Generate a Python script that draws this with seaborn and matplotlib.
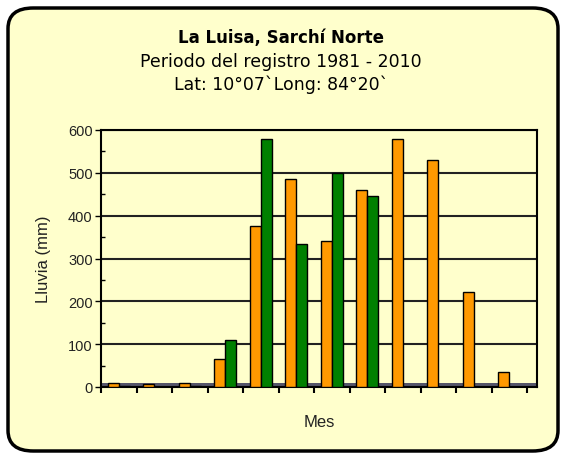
import numpy as np
import pandas as pd
import matplotlib
matplotlib.use("Agg")
import matplotlib.pyplot as plt
from matplotlib.patches import FancyBboxPatch
import seaborn as sns

months = ["Ene", "Feb", "Mar", "Abr", "May", "Jun", "Jul", "Ago", "Set", "Oct", "Nov", "Dic"]
series_a = [10, 8, 10, 65, 375, 485, 340, 460, 578, 530, 222, 35]
series_b = [2, 1, 2, 110, 580, 333, 500, 445, 0, 0, 0, 0]
series_names = ["Serie 1", "Serie 2"]
yticks = [0, 100, 200, 300, 400, 500, 600]

bg = "#FFFFCC"
sns.set_theme(style="white")
plt.rcParams["font.family"] = ["DejaVu Sans"]
plt.rcParams["text.color"] = "black"

df = pd.DataFrame({
    "Mes": months * 2,
    "Lluvia": series_a + series_b,
    "Serie": [series_names[0]] * 12 + [series_names[1]] * 12,
})

fig = plt.figure(figsize=(5.62, 4.56), dpi=100)
fig.patch.set_facecolor("white")

# rounded border
box = FancyBboxPatch((8 / 562, 4 / 456), 550 / 562, 443 / 456,
                     boxstyle="round,pad=0,rounding_size=0.045",
                     transform=fig.transFigure, facecolor=bg,
                     edgecolor="black", linewidth=2.5, zorder=-5)
fig.patches.append(box)

ax = fig.add_axes([101 / 562, 1 - 388 / 456, 436 / 562, 257 / 456])
ax.set_zorder(2)
ax.patch.set_alpha(0)

sns.barplot(data=df, x="Mes", y="Lluvia", hue="Serie", order=months,
            palette=["#FF9900", "#008000"], saturation=1, edgecolor="black", linewidth=1.0,
            width=0.62, dodge=True, legend=False, ax=ax, zorder=3)

ax.set_ylim(0, 600)
ax.set_xlim(-0.5, 11.78)
ax.set_yticks(yticks)
ax.set_yticklabels([str(v) for v in yticks], fontsize=10.5, family="Liberation Sans", color="#222222")
ax.set_yticks(np.arange(50, 600, 100), minor=True)
ax.tick_params(axis="y", which="major", direction="out", length=4, width=1, color="black", left=True, pad=2)
ax.tick_params(axis="y", which="minor", direction="in", length=3, width=1, color="black", left=True)
ax.set_xticks(np.arange(-0.5, 12, 1))
ax.set_xticklabels([])
ax.tick_params(axis="x", which="major", direction="out", length=4, width=1.5, color="black", bottom=True)

for v in yticks[1:]:
    ax.axhline(v, color="#222222", linewidth=1.5, zorder=1)
ax.axhspan(0, 10, facecolor="#55556a", edgecolor="none", alpha=1, zorder=2)

for s in ax.spines.values():
    s.set_color("black")
    s.set_linewidth(1.5)

ax.set_xlabel("Mes", fontsize=12, family="Liberation Sans", labelpad=12, color="#222222")
ax.set_ylabel("Lluvia (mm)", fontsize=12, family="Liberation Sans", labelpad=12, color="#222222")

fig.text(0.5, 1 - 38 / 456, "La Luisa, Sarchí Norte", ha="center", va="center",
         fontsize=12, fontweight="bold")
fig.text(0.5, 1 - 62 / 456, "Periodo del registro 1981 - 2010", ha="center", va="center",
         fontsize=12.5)
fig.text(0.5, 1 - 85 / 456, "Lat: 10°07`Long: 84°20`", ha="center", va="center",
         fontsize=12.5)

fig.savefig("out.png", dpi=100, facecolor=fig.get_facecolor())
